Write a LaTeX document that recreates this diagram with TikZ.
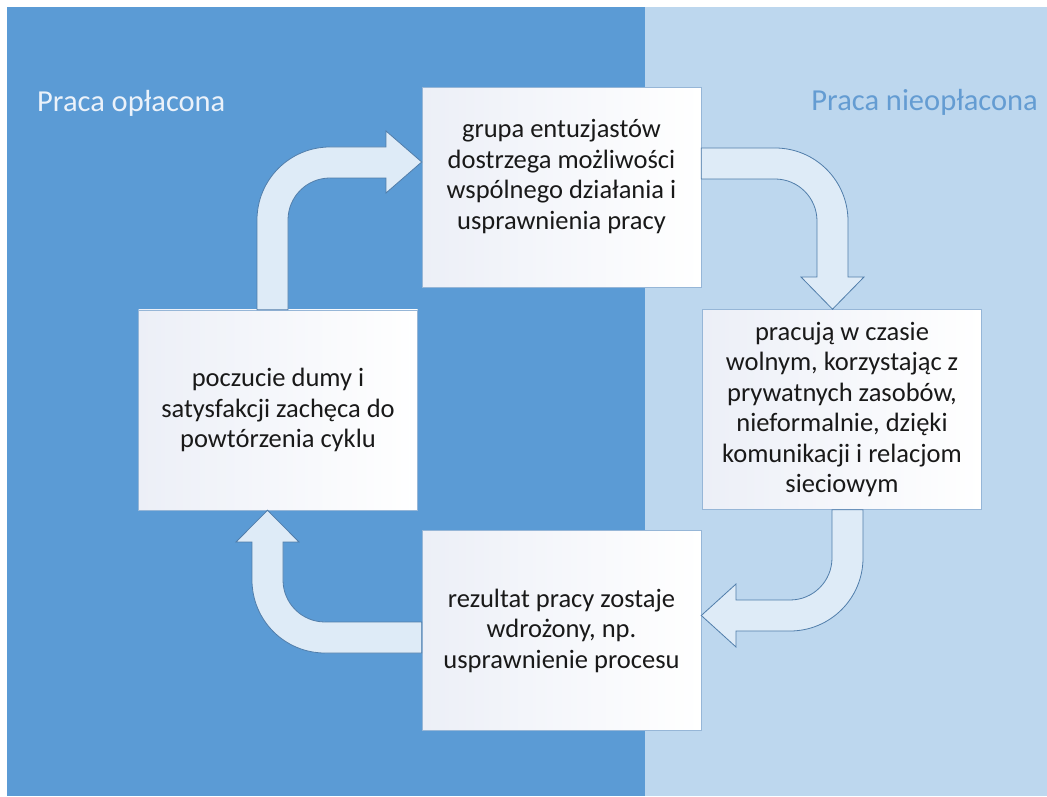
\documentclass[tikz,border=0pt]{standalone}
\usepackage{fontspec}
\setmainfont{Carlito}
\definecolor{paidblue}{RGB}{91,155,213}
\definecolor{unpaidblue}{RGB}{189,215,238}
\definecolor{arrowfill}{RGB}{222,235,247}
\definecolor{arrowline}{RGB}{80,125,170}
\definecolor{boxline}{RGB}{150,182,215}
\definecolor{boxshade}{RGB}{236,239,247}
\definecolor{boxtext}{RGB}{25,25,25}
\definecolor{unpaidtext}{RGB}{100,156,210}
\definecolor{paidtext}{RGB}{235,242,250}
\usetikzlibrary{positioning}

\begin{document}
\begin{tikzpicture}[x=1pt,y=1pt,
    stage/.style={draw=boxline,line width=0.6pt,left color=boxshade,right color=white,
                  minimum width=279pt,minimum height=200pt,inner sep=4pt,align=center,
                  text=boxtext,font=\fontsize{26.5}{30.5}\selectfont},
    bentarrow/.style={fill=arrowfill,draw=arrowline,line width=0.8pt,line join=miter},
    side/.style={inner sep=0pt,font=\fontsize{30.5}{34}\selectfont}]
  \useasboundingbox (0,0) rectangle (1047,796);

  % Background: paid / unpaid halves
  \fill[paidblue] (7,0) rectangle (645,789);
  \fill[unpaidblue] (645,0) rectangle (1047,789);

  \node[side,anchor=base west,text=paidtext] (paidlabel) at (37,684) {Praca opłacona};
  \node[side,anchor=base east,text=unpaidtext] (unpaidlabel) at (1038,685) {Praca nieopłacona};

  % The four stages of the cycle
  \node[stage] (idea) at (561.5,608.5)
    {grupa entuzjastów\\dostrzega możliwości\\wspólnego działania i\\usprawnienia pracy\\[-4pt]\mbox{}};
  \node[stage] (sparetime) at (842,386.5)
    {pracują w czasie\\wolnym, korzystając z\\prywatnych zasobów,\\nieformalnie, dzięki\\komunikacji i relacjom\\sieciowym};
  \node[stage] (pride) at (278,386)
    {poczucie dumy i\\satysfakcji zachęca do\\powtórzenia cyklu};
  \node[stage] (result) at (561.5,165.5)
    {rezultat pracy zostaje\\wdrożony, np.\\usprawnienie procesu};

  % Bent arrows: pride -> idea
  \filldraw[bentarrow] (257,0 |- pride.north) -- (257,576)
    arc[start angle=180,end angle=90,radius=73] -- (386,649) -- (386,665)
    -- (idea.west |- 0,634) -- (386,603) -- (386,618) -- (330,618)
    arc[start angle=90,end angle=180,radius=42] -- (288,0 |- pride.north) -- cycle;

  % idea -> sparetime
  \filldraw[bentarrow] (idea.east |- 0,648) -- (775,648)
    arc[start angle=90,end angle=0,radius=73] -- (848,519) -- (864,519)
    -- (sparetime.north -| 832.5,0) -- (801,519) -- (817,519) -- (817,575)
    arc[start angle=0,end angle=90,radius=42] -- (idea.east |- 0,617) -- cycle;

  % sparetime -> result
  \filldraw[bentarrow] (832,0 |- sparetime.south) -- (832,238)
    arc[start angle=0,end angle=-90,radius=42] -- (736,196) -- (736,212)
    -- (result.east |- 0,180.5) -- (736,149) -- (736,165) -- (790,165)
    arc[start angle=-90,end angle=0,radius=73] -- (863,0 |- sparetime.south) -- cycle;

  % result -> pride
  \filldraw[bentarrow] (result.west |- 0,174) -- (325,174)
    arc[start angle=-90,end angle=-180,radius=42] -- (283,254) -- (299,254)
    -- (pride.south -| 267.5,0) -- (236,254) -- (252,254) -- (252,216)
    arc[start angle=180,end angle=270,radius=73] -- (result.west |- 0,143) -- cycle;
\end{tikzpicture}
\end{document}
